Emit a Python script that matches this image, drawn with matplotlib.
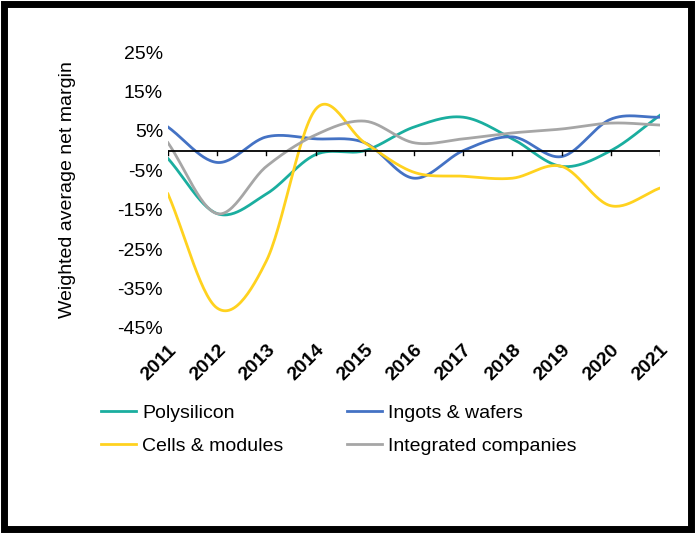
import matplotlib.pyplot as plt
import numpy as np
from matplotlib.patches import Rectangle

years = list(range(2011, 2022))

# Маржа по сегментам, %
margins = {
    "Polysilicon": [-2, -16, -11, -1, 0, 6, 8.5, 3, -4, 0, 9],
    "Ingots & wafers": [6, -3, 3.5, 3, 2, -7, 0, 3.5, -1.5, 8, 8.5],
    "Cells & modules": [-11, -40, -28, 10.5, 2, -5.5, -6.5, -7, -4, -14, -9.5],
    "Integrated companies": [2, -16, -4, 4, 7.5, 2, 3, 4.5, 5.5, 7, 6.5],
}
colors = {
    "Polysilicon": "#1aae9f",
    "Ingots & wafers": "#4472c4",
    "Cells & modules": "#ffd21f",
    "Integrated companies": "#a6a6a6",
}

def smooth(x, y, n=30):
    # Сглаживание линии как в Excel (Catmull-Rom)
    x = np.asarray(x, float)
    y = np.asarray(y, float)
    px = np.concatenate([[2 * x[0] - x[1]], x, [2 * x[-1] - x[-2]]])
    py = np.concatenate([[2 * y[0] - y[1]], y, [2 * y[-1] - y[-2]]])
    xs, ys = [], []
    t = np.linspace(0, 1, n)
    for i in range(1, len(px) - 2):
        for p, out in ((px, xs), (py, ys)):
            p0, p1, p2, p3 = p[i - 1], p[i], p[i + 1], p[i + 2]
            out.extend(0.5 * (2 * p1 + (-p0 + p2) * t + (2 * p0 - 5 * p1 + 4 * p2 - p3) * t**2
                              + (-p0 + 3 * p1 - 3 * p2 + p3) * t**3))
    return xs, ys

def main():
    plt.rcParams['font.family'] = 'Liberation Sans'
    fig = plt.figure(figsize=(6.97, 5.33), dpi=100)
    fig.patches.append(Rectangle((0.006, 0.008), 0.985, 0.985, transform=fig.transFigure,
                                 fill=False, edgecolor='black', linewidth=5))
    ax = fig.add_axes([0.241, 0.385, 0.706, 0.517])

    for name, vals in margins.items():
        xs, ys = smooth(years, vals)
        ax.plot(xs, ys, color=colors[name], linewidth=2, label=name)

    ax.axhline(0, color='black', linewidth=1.3)
    for yr in years:
        ax.plot([yr, yr], [0, -1.2], color='black', linewidth=1)

    ax.set_xlim(2011, 2021)
    ax.set_ylim(-45, 25)
    ax.set_yticks(range(-45, 26, 10))
    ax.set_yticklabels([f"{v}%" for v in range(-45, 26, 10)], fontsize=14)
    ax.set_xticks(years)
    ax.set_xticklabels(years, rotation=45, ha='right', rotation_mode='anchor',
                       fontsize=14, fontweight='bold')
    ax.tick_params(length=0)
    ax.tick_params(axis='x', pad=10)
    for s in ax.spines.values():
        s.set_visible(False)
    ax.set_ylabel("Weighted average net margin", fontsize=14, labelpad=30)

    handles, labels = ax.get_legend_handles_labels()
    order = [0, 2, 1, 3]
    fig.legend([handles[i] for i in order], [labels[i] for i in order], ncol=2,
               loc='upper left', bbox_to_anchor=(0.12, 0.275), frameon=False,
               fontsize=14, handlelength=1.8, handletextpad=0.3,
               columnspacing=3.3, labelspacing=0.8)

    fig.savefig("out.png", dpi=100)

if __name__ == "__main__":
    main()
